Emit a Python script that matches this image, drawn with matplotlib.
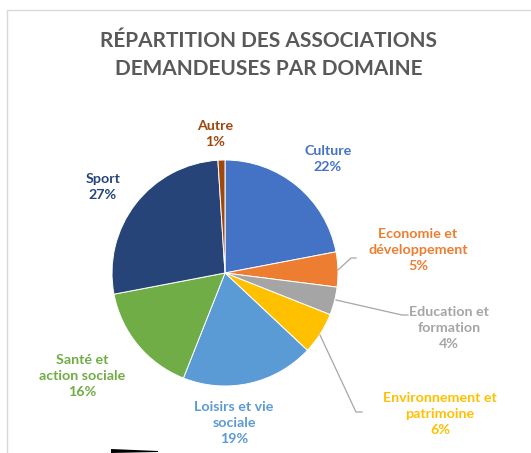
import matplotlib.pyplot as plt
from matplotlib.patches import Rectangle

# Données
domaines = ['Culture', 'Economie et\ndéveloppement', 'Education et\nformation',
            'Environnement et\npatrimoine', 'Loisirs et vie\nsociale',
            'Santé et\naction sociale', 'Sport', 'Autre']
parts = [22, 5, 4, 6, 19, 16, 27, 1]
couleurs = ['#4472C4', '#ED7D31', '#A5A5A5', '#FFC000', '#5B9BD5',
            '#70AD47', '#264478', '#9E480E']

W, H = 531, 453
fig = plt.figure(figsize=(W / 100, H / 100), dpi=100)
ax = fig.add_axes([0, 0, 1, 1])

plt.rcParams['font.family'] = ['Lato', 'DejaVu Sans']

def py(y):
    # coordonnée pixel (haut -> bas) vers coordonnée données
    return H - y

centre = (225, py(273))
rayon = 113
wedges, _ = ax.pie(parts, colors=couleurs, startangle=90, counterclock=False,
                   center=centre, radius=rayon, frame=True,
                   wedgeprops=dict(edgecolor='white', linewidth=0.7))
ax.set_xlim(0, W)
ax.set_ylim(0, H)
ax.axis('off')

# cadre clair
ax.add_patch(Rectangle((7, py(470)), 540, 460, fill=False, ec='#D9D9D9', lw=1))

ax.text(W / 2 + 3, py(55), 'RÉPARTITION DES ASSOCIATIONS\nDEMANDEUSES PAR DOMAINE',
        ha='center', va='center', fontsize=15, fontweight='bold', color='#595959',
        linespacing=1.45)

# positions des étiquettes (pixels)
pos_labels = [(328, 159), (418, 250), (449, 328), (440, 414), (234, 423),
              (82, 376), (103, 187), (215, 134)]
for nom, p, c, (x, y) in zip(domaines, parts, couleurs, pos_labels):
    ax.text(x, py(y), f'{nom}\n{p}%', ha='center', va='center', fontsize=10.3,
            fontweight='bold', color=c, linespacing=1.4)

# lignes de rappel
rappels = [[(338, 270), (351, 258), (356, 258)],
           [(336, 300), (402, 315), (408, 315)],
           [(320, 335), (356, 412), (362, 412)]]
for pts in rappels:
    ax.plot([p[0] for p in pts], [py(p[1]) for p in pts], color='#A6A6A6', lw=0.9)

# trait noir en bas à gauche
ax.fill([111, 158, 158, 111], [py(449), py(451), py(452), py(453)], color='black', lw=0)

fig.savefig('out.png', dpi=100)
